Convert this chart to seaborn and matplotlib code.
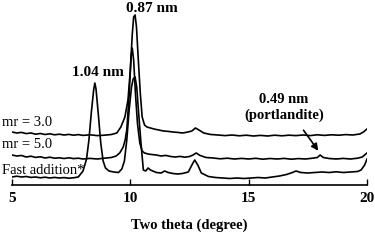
import numpy as np
import pandas as pd
import matplotlib
matplotlib.use("Agg")
import matplotlib.pyplot as plt
import seaborn as sns

# XRD patterns, stacked (arbitrary intensity units incl. offset)
two_theta_fast = [5.0, 5.2, 5.4, 5.6, 5.8, 6.0, 6.2, 6.4, 6.6, 6.8, 7.0, 7.2, 7.4, 7.6, 7.8,
                  8.0, 8.15, 8.25, 8.35, 8.45, 8.5, 8.55, 8.65, 8.75, 8.85, 8.95, 9.1, 9.3,
                  9.5, 9.64, 9.75, 9.85, 9.95, 10.05, 10.12, 10.2, 10.27, 10.35, 10.45,
                  10.55, 10.65, 10.75, 10.85, 10.95, 11.1, 11.3, 11.45, 11.6, 11.8, 12.0,
                  12.2, 12.45, 12.6, 12.72, 12.85, 13.0, 13.3, 13.6, 13.9, 14.2, 14.5, 14.8,
                  15.1, 15.4, 15.7, 16.0, 16.3, 16.6, 16.85, 17.0, 17.2, 17.5, 17.8, 18.1,
                  18.4, 18.7, 19.0, 19.3, 19.6, 19.75, 19.9, 20.0]
fast_addition = [8, 8.8, 8, 8.5, 7.6, 8, 7.2, 7.8, 7, 7.6, 7, 7.4, 6.8, 7.2, 8,
                 14, 26, 45, 72, 95, 102, 96, 70, 42, 24, 17, 14, 13,
                 12.5, 16, 24, 45, 75, 98, 106, 108, 98, 72, 42,
                 15, 14, 17, 15, 14, 12.5, 12, 14, 12.5, 11.5, 11,
                 11.5, 13, 20, 25, 20, 12, 8.5, 7.5, 7, 6.5, 7, 6.5,
                 7, 7.5, 7, 8, 9, 10.5, 12.5, 14, 12.5, 12, 12.5, 13,
                 12.5, 13.2, 12.5, 13, 13.5, 15, 20, 26]

two_theta_mr5 = [5.0, 5.2, 5.4, 5.6, 5.8, 6.0, 6.2, 6.4, 6.6, 6.8, 7.0, 7.2, 7.4, 7.6, 7.8,
                 8.0, 8.3, 8.6, 8.9, 9.2, 9.4, 9.55, 9.7, 9.78, 9.85, 9.95, 10.03, 10.08,
                 10.14, 10.22, 10.3, 10.4, 10.5, 10.6, 10.75, 10.9, 11.1, 11.3, 11.5, 11.7,
                 11.9, 12.1, 12.3, 12.5, 12.65, 12.78, 12.95, 13.2, 13.5, 13.8, 14.1, 14.4,
                 14.7, 15.0, 15.3, 15.6, 15.9, 16.2, 16.5, 16.8, 17.1, 17.4, 17.7, 17.9,
                 18.02, 18.15, 18.4, 18.7, 19.0, 19.3, 19.6, 19.8, 20.0]
mr_5 = [30, 29, 29.5, 28, 28.8, 27.6, 28.2, 27, 27.8, 26.8, 27.2, 26.5, 27.2, 26.4, 26.8,
        26, 26.6, 26, 26.8, 27.5, 29, 32, 38, 45, 55, 90, 128, 137,
        125, 90, 62, 42, 34, 32, 31, 30.5, 30, 29, 29.6, 28.5,
        28, 28.6, 27.8, 28.5, 30, 32, 29.5, 27.5, 27, 26.2, 26.8, 26,
        26.6, 26, 26.7, 25.8, 26.5, 26, 26.6, 25.8, 26.4, 26, 26.8, 27.5,
        30, 27.5, 26.5, 26, 26.6, 26, 26.8, 28, 32]

two_theta_mr3 = [5.0, 5.2, 5.4, 5.6, 5.8, 6.0, 6.2, 6.4, 6.6, 6.8, 7.0, 7.2, 7.4, 7.6, 7.8,
                 8.0, 8.3, 8.6, 8.9, 9.2, 9.43, 9.6, 9.77, 9.9, 10.0, 10.08, 10.14, 10.2,
                 10.26, 10.33, 10.42, 10.5, 10.6, 10.7, 10.85, 11.0, 11.2, 11.4, 11.6,
                 11.8, 12.0, 12.2, 12.4, 12.6, 12.75, 12.9, 13.1, 13.4, 13.7, 14.0, 14.3,
                 14.6, 14.9, 15.2, 15.5, 15.8, 16.1, 16.4, 16.7, 17.0, 17.3, 17.6, 17.9,
                 18.2, 18.5, 18.8, 19.1, 19.4, 19.7, 19.85, 20.0]
mr_3 = [53, 52, 52.6, 51.4, 52, 50.8, 51.5, 50.5, 51.2, 50.2, 50.8, 50, 50.6, 49.8, 50.4,
        49.6, 50.2, 49.4, 49.8, 50.5, 52, 58, 68, 85, 115, 150, 168, 170,
        158, 128, 92, 68, 60, 58, 57, 56, 55, 54, 53.6,
        53, 52.6, 52, 52.8, 54, 57, 55, 52, 50.5, 50, 49.4, 50,
        49.2, 49.8, 49, 49.6, 49, 49.8, 49.2, 49.8, 49.4, 50, 49.4, 50.2,
        49.6, 50.2, 49.8, 50.4, 50, 51, 53, 56]

series_labels = ["mr = 3.0", "mr = 5.0", "Fast addition*"]
peak_labels = ["0.87 nm", "1.04 nm", "0.49 nm\n(portlandite)"]

plt.rcParams["font.family"] = ["Liberation Serif", "DejaVu Serif"]

fig = plt.figure(figsize=(3.75, 2.44), dpi=100)
ax = fig.add_axes([12 / 375, 59 / 244, 355 / 375, 185 / 244])

for x, y in [(two_theta_mr3, mr_3), (two_theta_mr5, mr_5), (two_theta_fast, fast_addition)]:
    df = pd.DataFrame({"two_theta": x, "intensity": y})
    sns.lineplot(data=df, x="two_theta", y="intensity", color="black", lw=1.2,
                 sort=False, estimator=None, ax=ax)

ax.set_xlim(5, 20)
ax.set_ylim(0, 185)
ax.set_xticks([5, 10, 15, 20])
ax.set_yticks([])
for s in ["left", "right", "top"]:
    ax.spines[s].set_visible(False)
ax.spines["bottom"].set_linewidth(1.2)
ax.tick_params(axis="x", direction="in", length=4, width=1, pad=5, labelsize=11)
for t in ax.get_xticklabels():
    t.set_fontweight("bold")
ax.set_xlabel("Two theta (degree)", fontsize=10.5, fontweight="bold", labelpad=10)
ax.set_ylabel("")

# series labels
for lbl, yy in zip(series_labels, [63, 40, 15]):
    ax.text(4.58, yy, lbl, fontsize=10.5, ha="left", va="center", clip_on=False)

# peak labels
ax.text(10.91, 177, peak_labels[0], fontsize=11, fontweight="bold", ha="center", va="center")
ax.text(8.63, 113, peak_labels[1], fontsize=11, fontweight="bold", ha="center", va="center")
ax.text(16.49, 77.5, peak_labels[2], fontsize=10.5, fontweight="bold", ha="center",
        va="center", multialignment="center", linespacing=1.3)
ax.annotate("", xy=(18.01, 32), xytext=(17.25, 57),
            arrowprops=dict(arrowstyle="-|>", color="black", lw=1.2, mutation_scale=10))

fig.savefig("out.png", dpi=100)
